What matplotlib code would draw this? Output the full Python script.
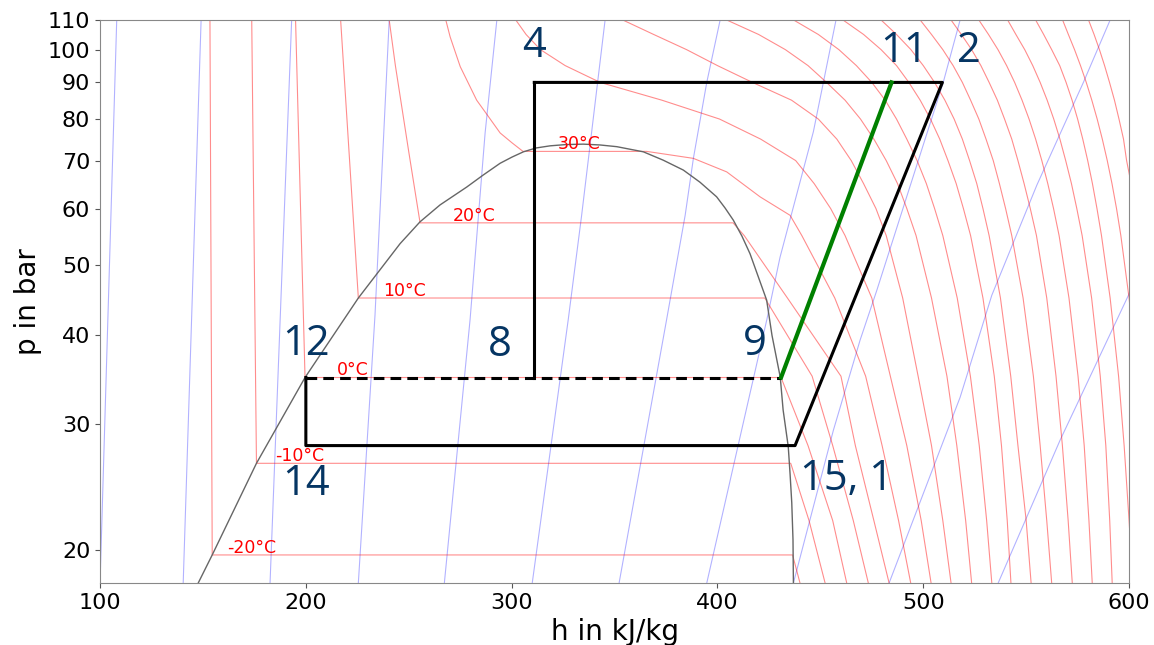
import matplotlib
matplotlib.use("Agg")
from matplotlib import pyplot as plt
from matplotlib.ticker import NullLocator

# --- saturation dome (h in kJ/kg, p in bar)
dome_h = [147.7, 154.5, 176.0, 199.6, 225.5, 245.8, 255.5, 265.2, 278.2, 286.1, 294.4,
          300.2, 305.7, 311.9, 318.7, 326.4, 334.8, 343.0, 351.1, 357.5, 364.0, 373.6,
          383.4, 391.5, 399.6, 403.7, 407.7, 411.9, 415.8, 419.7, 423.9, 426.5, 430.5,
          431.9, 434.4, 435.3, 436.1, 436.7, 436.9]
dome_p = [18.0, 19.7, 26.45, 34.85, 45.0, 53.6, 57.5, 60.7, 64.3, 66.8, 69.4,
          70.8, 72.0, 72.9, 73.4, 73.7, 73.8, 73.6, 73.2, 72.6, 72.0, 70.1,
          67.9, 65.3, 62.3, 60.1, 57.8, 54.9, 51.9, 48.3, 44.7, 39.9, 34.9,
          31.4, 27.9, 25.5, 23.3, 20.7, 18.0]

# --- subcritical isotherms: liquid branch, saturation plateau, vapour branch
sub_T = [-20, -10, 0, 10, 20, 30]
sub_h = [
    [153.4, 154.5, 436.5, 440.1],
    [173.7, 176.0, 435.6, 444.5, 452.3],
    [195.0, 199.6, 430.9, 444.0, 456.0, 462.8],
    [216.9, 225.5, 423.0, 446.0, 456.0, 466.0, 473.3],
    [240.5, 243.5, 250.0, 255.5, 407.6, 413.0, 434.0, 460.0, 467.0, 476.0, 483.4],
    [268.0, 270.1, 275.0, 283.0, 288.5, 294.4, 300.2, 305.5, 365.6, 388.3, 404.5,
     420.7, 435.3, 441.0, 457.0, 472.0, 480.0, 488.0, 493.9],
]
sub_p = [
    [110, 19.7, 19.7, 18],
    [110, 26.45, 26.45, 22, 18],
    [110, 34.85, 34.85, 28, 22, 18],
    [110, 45.0, 45.0, 35, 28, 22, 18],
    [110, 95, 72, 57.3, 57.3, 55, 45, 35, 28, 22, 18],
    [110, 104.2, 94.7, 85.0, 80.8, 76.5, 74.1, 72.1, 72.1, 70.5, 67.5,
     62.3, 58.7, 55, 45, 35, 28, 22, 18],
]
sub_label_h = [161.7, 185.3, 215.3, 237.5, 271.2, 322.3]
sub_label_p = [19.7, 26.45, 34.85, 45.0, 57.3, 72.1]

# --- supercritical isotherms, h at the pressure grid
p_grid = [18, 22, 28, 35, 45, 55, 60, 65, 70, 75, 80, 85, 90, 95, 100, 105, 110]
sup_T = [40, 50, 60, 70, 80, 90, 100, 110, 120, 130, 140, 150, 160]
sup_h = [
    [503.8, 499.0, 492.0, 484.0, 475.0, 462.0, 455.0, 447.0, 438.0, 421.0, 401.0, 373.0, 343.0, 326.0, 314.0, 307.0, 302.0],
    [513.5, 509.5, 504.0, 497.5, 490.0, 482.0, 477.0, 471.0, 465.0, 458.0, 449.0, 436.0, 417.0, 400.0, 385.0, 369.0, 354.0],
    [523.5, 520.6, 516.3, 511.5, 504.0, 496.5, 492.0, 487.5, 482.0, 476.0, 469.5, 462.0, 453.0, 444.0, 433.0, 420.0, 404.5],
    [533.3, 530.8, 527.2, 522.9, 516.5, 509.5, 505.5, 501.5, 497.0, 492.0, 487.0, 481.5, 475.0, 467.5, 459.0, 449.0, 437.0],
    [542.6, 540.8, 538.0, 534.5, 529.0, 523.0, 519.5, 516.0, 512.0, 508.0, 503.5, 498.5, 493.0, 487.0, 479.5, 471.0, 461.0],
    [552.4, 550.0, 546.0, 542.5, 537.5, 532.0, 529.0, 526.0, 522.5, 519.0, 515.0, 510.5, 505.5, 500.0, 494.0, 487.0, 479.5],
    [562.4, 560.0, 556.8, 553.5, 548.5, 543.0, 540.0, 537.0, 534.0, 530.5, 527.0, 523.0, 519.0, 514.5, 509.5, 504.0, 498.5],
    [572.4, 570.4, 567.6, 564.5, 560.0, 555.0, 552.0, 549.0, 546.0, 543.0, 539.5, 536.0, 532.0, 528.0, 523.5, 518.5, 513.5],
    [582.1, 580.5, 578.2, 575.2, 570.8, 566.0, 563.3, 560.5, 557.6, 554.6, 551.4, 548.0, 544.4, 540.5, 536.3, 531.7, 527.0],
    [591.8, 590.6, 588.7, 586.0, 581.8, 577.2, 574.6, 572.0, 569.2, 566.4, 563.4, 560.2, 556.8, 553.2, 549.3, 545.0, 541.0],
    [601.8, 600.0, 597.6, 594.9, 590.8, 586.6, 584.4, 582.2, 579.9, 577.5, 575.0, 572.3, 569.4, 566.3, 562.4, 558.5, 554.6],
    [611.0, 609.2, 606.6, 603.8, 600.0, 596.0, 593.9, 591.7, 589.4, 587.0, 584.5, 581.9, 579.2, 576.4, 573.5, 570.5, 567.7],
    [619.0, 617.3, 615.0, 612.5, 608.9, 605.1, 603.1, 601.0, 598.8, 597.3, 595.1, 592.9, 590.5, 588.1, 585.6, 583.0, 580.3],
]

# --- isentropes
isen_h = [
    [100.0, 108.1],
    [140.4, 149.1],
    [182.6, 193.1],
    [225.5, 233.6, 240.5],
    [267.3, 279.8, 287.1, 292.8],
    [310.0, 327.5, 334.0, 345.4],
    [352.2, 375.3, 384.3, 388.3, 394.8, 401.3],
    [394.8, 424.0, 430.4, 446.6, 457.6],
    [436.9, 456.3, 469.3, 477.4, 509.7, 517.9],
    [483.4, 517.9, 533.3, 555.2, 577.8, 590.8],
    [536.4, 566.5, 599.7, 605.0],
]
isen_p = [
    [18, 110],
    [18, 110],
    [18, 110],
    [18, 42.6, 110],
    [18, 42.0, 76.5, 110],
    [18, 42.0, 58.7, 110],
    [18, 42.0, 58.7, 70.5, 90.0, 110],
    [18, 42.0, 51.3, 76.8, 110],
    [18, 29.4, 39.3, 46.1, 90.0, 110],
    [18, 32.7, 45.4, 64.7, 90.0, 110],
    [18, 28.5, 45.4, 50.0],
]

# --- cycle states
cyc_h = {"4": 311.0, "8": 311.0, "12": 200.0, "14": 200.0, "15": 437.7,
         "2": 509.3, "9": 430.9, "11": 484.6}
p_high, p_mid, p_low = 90.0, 34.85, 28.0

labels = ["4", "11", "2", "12", "8", "9", "14", "15, 1"]
label_h = [305.0, 479.0, 516.2, 188.3, 288.6, 412.2, 188.3, 440.1]
label_p = [97.7, 96.2, 96.2, 37.45, 37.3, 37.45, 23.9, 24.3]

p_ticks = [20, 30, 40, 50, 60, 70, 80, 90, 100, 110]
h_ticks = [100, 200, 300, 400, 500, 600]

fig = plt.figure(figsize=(11.54, 6.45), dpi=100)
ax = fig.add_axes([0.0867, 0.0961, 0.8917, 0.8729])
ax.set_yscale("log")

red = dict(color="red", alpha=0.45, lw=0.8)
blue = dict(color="blue", alpha=0.3, lw=0.8)

for hs, ps in zip(isen_h, isen_p):
    ax.plot(hs, ps, **blue)
for hs, ps in zip(sub_h, sub_p):
    ax.plot(hs, ps, **red)
for hs in sup_h:
    ax.plot(hs, p_grid, **red)
for t, lh, lp in zip(sub_T, sub_label_h, sub_label_p):
    ax.text(lh, lp * 1.007, f"{t}°C", color="red", fontsize=12.5, va="baseline")

ax.plot(dome_h, dome_p, color="#666666", lw=1.0)

# cycle
k = dict(color="black", lw=2.2, solid_capstyle="projecting")
ax.plot([cyc_h["4"], cyc_h["8"]], [p_high, p_mid], **k)
ax.plot([cyc_h["12"], cyc_h["14"], cyc_h["15"], cyc_h["2"], cyc_h["4"]],
        [p_mid, p_low, p_low, p_high, p_high], **k)
ax.plot([cyc_h["12"], cyc_h["9"]], [p_mid, p_mid], color="black", lw=2.2, ls=(0, (3.5, 2)))
ax.plot([cyc_h["9"], cyc_h["11"]], [p_mid, p_high], color="green", lw=3)

for txt, lh, lp in zip(labels, label_h, label_p):
    ax.text(lh, lp, txt, color="#053563", fontsize=30, family=["Open Sans", "DejaVu Sans"],
            va="baseline", ha="left")

ax.set_xlim(100, 600)
ax.set_ylim(18, 110)
ax.set_yticks(p_ticks)
ax.set_yticklabels([str(p) for p in p_ticks])
ax.yaxis.set_minor_locator(NullLocator())
ax.set_xticks(h_ticks)
ax.tick_params(labelsize=16, color="#555555")
for s in ax.spines.values():
    s.set_color("#888888")
ax.set_xlabel("h in kJ/kg", fontsize=20)
ax.set_ylabel("p in bar", fontsize=20)

fig.savefig("out.png", dpi=100)
